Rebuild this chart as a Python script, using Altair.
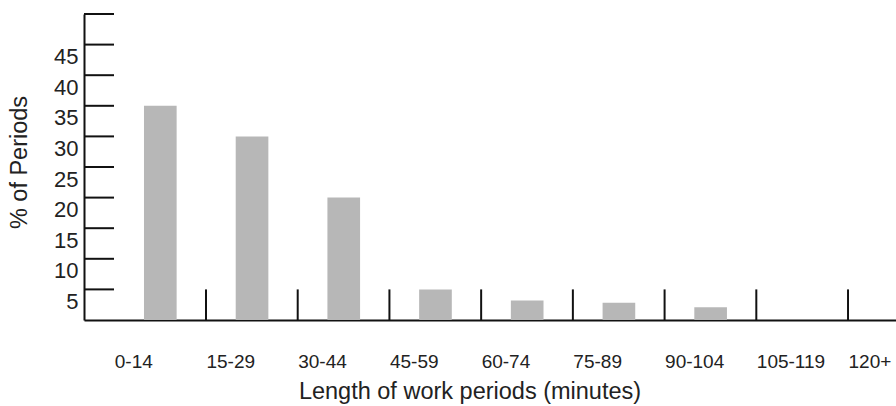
import json
import altair as alt
import pandas as pd

# ---- data ----
categories = ["0-14", "15-29", "30-44", "45-59", "60-74", "75-89", "90-104", "105-119", "120+"]
percent = [35, 30, 20, 5, 3.2, 2.8, 2.1, 0, 0]
y_tick_values = [5, 10, 15, 20, 25, 30, 35, 40, 45, 50]
y_label_values = [5, 10, 15, 20, 25, 30, 35, 40, 45]
x_boundaries = [1, 2, 3, 4, 5, 6, 7, 8]

FONT = "Liberation Sans"
INK = "#111111"
TXT = "#222222"
W, H = 812, 306

bars_df = pd.DataFrame({"cat": categories, "pct": percent, "idx": list(range(len(categories)))})
ytick_df = pd.DataFrame({"v": y_tick_values})
xtick_df = pd.DataFrame({"b": x_boundaries})

xscale = alt.Scale(domain=[-0.33, 8.523], nice=False, zero=False)
yscale = alt.Scale(domain=[0, 50], nice=False)

label_expr = json.dumps(categories) + "[datum.value]"

xaxis = alt.Axis(
    values=list(range(len(categories))),
    labelExpr=label_expr,
    title="Length of work periods (minutes)",
    grid=False, ticks=False, tickSize=0,
    domain=True, domainColor=INK, domainWidth=2,
    labelAlign="left", labelBaseline="alphabetic", labelPadding=47,
    labelFont=FONT, labelFontSize=19, labelColor=TXT,
    labelFlush=False, labelOverlap=False, labelBound=False,
    titleFont=FONT, titleFontSize=23.5, titleFontWeight="normal", titleColor=TXT,
    titleX=385.5, titleY=78.7, titleAlign="center", titleBaseline="alphabetic",
)

yaxis = alt.Axis(
    values=y_label_values,
    title="% of Periods",
    grid=False, ticks=False, tickSize=0,
    domain=True, domainColor=INK, domainWidth=2,
    labelAlign="right", labelBaseline="alphabetic", labelPadding=6, labelOffset=19,
    labelFont=FONT, labelFontSize=22, labelColor=TXT,
    labelFlush=False, labelOverlap=False, labelBound=False,
    titleFont=FONT, titleFontSize=23.5, titleFontWeight="normal", titleColor=TXT,
    titleX=-58, titleY=148, titleAlign="center", titleBaseline="alphabetic",
)

bars = alt.Chart(bars_df).transform_calculate(
    x0="datum.idx + 0.324", x1="datum.idx + 0.68"
).mark_rect(color="#b7b7b7").encode(
    x=alt.X("x0:Q", scale=xscale, axis=xaxis),
    x2="x1:Q",
    y=alt.Y("pct:Q", scale=yscale, axis=yaxis),
    y2=alt.datum(0),
)

yticks = alt.Chart(ytick_df).mark_rule(color=INK, strokeWidth=2).encode(
    y=alt.Y("v:Q", scale=yscale, axis=yaxis),
    x=alt.value(0),
    x2=alt.value(30),
)

xticks = alt.Chart(xtick_df).mark_rule(color=INK, strokeWidth=2).encode(
    x=alt.X("b:Q", scale=xscale, axis=xaxis),
    y=alt.value(H),
    y2=alt.value(H - 30.6),
)

chart = alt.layer(bars, yticks, xticks).properties(
    width=W, height=H,
    padding={"left": 84, "top": 14, "right": 0, "bottom": 86},
    autosize=alt.AutoSizeParams(type="none"),
    background="white",
).configure_view(strokeWidth=0)

chart.save("out.html", embed_options={"renderer": "svg", "actions": False})
